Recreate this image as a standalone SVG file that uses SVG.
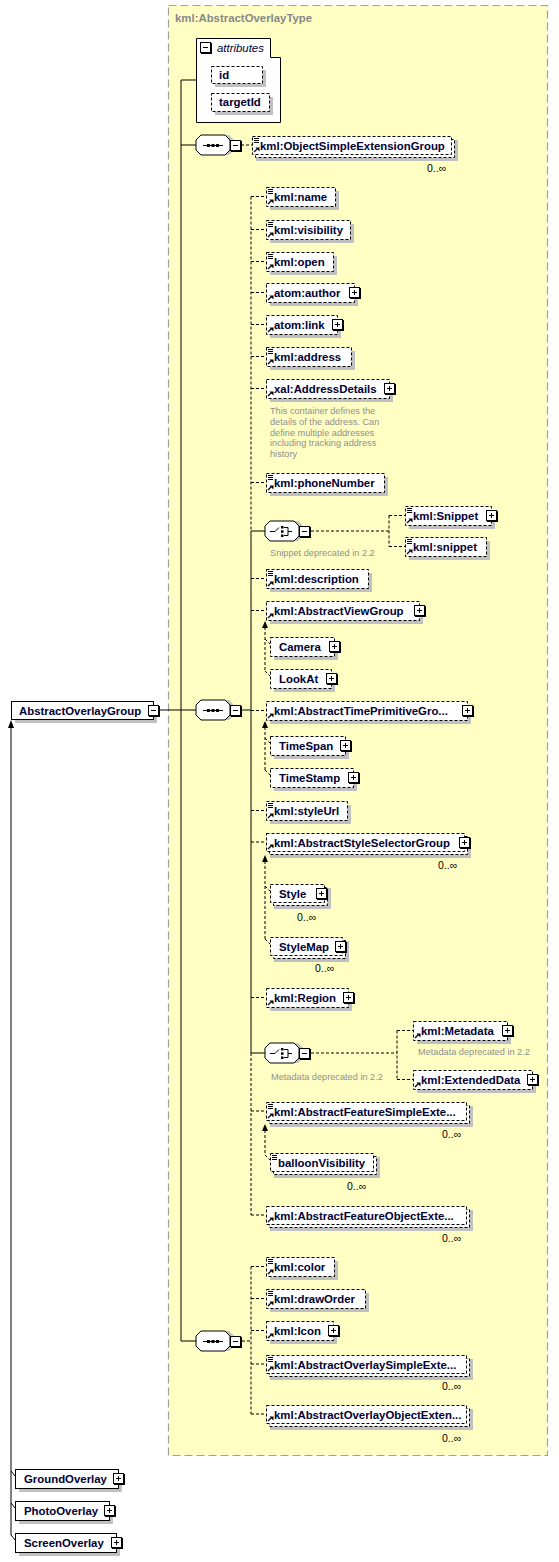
<svg xmlns="http://www.w3.org/2000/svg" xmlns:xlink="http://www.w3.org/1999/xlink" width="559" height="1562" viewBox="0 0 559 1562">
<style>
.bx{fill:#fff;stroke:#000;stroke-dasharray:3,2}
.sb{fill:#fff;stroke:#000}
.sh{fill:#c0c0c0}
.t{font-family:"Liberation Sans",Arial,sans-serif;font-weight:bold;font-size:11.4px;fill:#000033}
.ann{font-family:"Liberation Sans",Arial,sans-serif;font-size:9.2px;fill:#8f8f8f}
.occ{font-family:"Liberation Sans",Arial,sans-serif;font-size:10.5px;fill:#000}
.ln{fill:none;stroke:#000}
.dl{fill:none;stroke:#000;stroke-dasharray:3,2}
</style>
<defs>
<g id="pl"><rect x="1" y="1" width="11" height="11" fill="#000"/><rect x="0.5" y="0.5" width="10" height="10" fill="#fff" stroke="#000"/><path d="M3 5.5h5M5.5 3v5" stroke="#000"/></g>
<g id="mn"><rect x="1" y="1" width="11" height="11" fill="#000"/><rect x="0.5" y="0.5" width="10" height="10" fill="#fff" stroke="#000"/><path d="M3 5.5h5" stroke="#000"/></g>
<g id="sm"><path d="M2 2.5h5M2 4.5h5M2 6.5h5" stroke="#000"/></g>
<g id="rf"><path d="M2 17L5.5 13.5" stroke="#000" stroke-width="1.2"/><path d="M3.5 12.5H7.5V16.5Z" fill="#000"/></g>
<g id="oct"><polygon points="-12,-6 12,-6 17,-1 17,9 12,14 -12,14 -17,9 -17,-1" transform="translate(4,-4)" class="sh"/><polygon points="-12,-10 12,-10 17,-5 17,5 12,10 -12,10 -17,5 -17,-5" class="sb"/></g>
<g id="seq"><use xlink:href="#oct"/><path d="M-10 0.5H10" stroke="#000"/><rect x="-6" y="-1" width="3" height="3" fill="#000"/><rect x="-1.5" y="-1" width="3" height="3" fill="#000"/><rect x="3" y="-1" width="3" height="3" fill="#000"/><use xlink:href="#mn" x="17" y="-5"/></g>
<g id="cho"><use xlink:href="#oct"/><path d="M-12 0.5H-7L-3 -3.5M2 -3.5H6V4.5H2M6 0.5H10" fill="none" stroke="#000"/><rect x="-1" y="-5" width="2.5" height="2.5" fill="#000"/><rect x="-1" y="-0.7" width="2.5" height="2.5" fill="#000"/><rect x="-1" y="3.5" width="2.5" height="2.5" fill="#000"/><use xlink:href="#mn" x="17" y="-5"/></g>
</defs>

<g id="type-box">
<rect x="168.5" y="5.5" width="379" height="1450" fill="#ffffc4" stroke="#a0a0a0" stroke-dasharray="8,4" stroke-width="1.2"/>
<text x="175" y="22" class="t" style="fill:#888">kml:AbstractOverlayType</text>
</g>

<g id="connectors">
<path class="ln" d="M181 80V1341M181 80H196M181 145H196M158 710H196M181 1341H196M241 710H251M251 531V1053M251 531H265M251 1053H265"/>
<path class="ln" d="M11 726V1535M11 1471L15 1476M11 1503L15 1508M11 1535L15 1540"/>
<polygon points="11,720 8,728 14,728" fill="#000"/>
<path class="dl" d="M241 145H252M251 196.5V531M251 1053V1215"/>
<path class="dl" d="M251 196.5H266M251 229.5H266M251 261.5H266M251 292.5H266M251 324.5H266M251 356.5H266M251 388.5H266M251 482.5H266M251 578.5H266M251 610.5H266M251 710.5H266M251 810.5H266M251 842H266M251 997.5H266M251 1111H266M251 1215H266"/>
<path class="dl" d="M311 531H389M389 515.5V546.5M389 515.5H405M389 546.5H405"/>
<path class="dl" d="M311 1053H397M397 1030.5V1079.5M397 1030.5H413M397 1079.5H413"/>
<path class="dl" d="M242 1341H251M251 1266.5V1414M251 1266.5H266M251 1298.5H266M251 1330.5H266M251 1364H266M251 1414H266"/>
<path class="dl" d="M265 627V671M265 639L270 644M265 671L270 676"/>
<polygon points="265,621 262,628 268,628" fill="#000"/>
<path class="dl" d="M265 727V770M265 738L270 743M265 770L270 775"/>
<polygon points="265,721 262,728 268,728" fill="#000"/>
<path class="dl" d="M265 861V939M265 886L270 891M265 939L270 944"/>
<polygon points="265,855 262,862 268,862" fill="#000"/>
<path class="dl" d="M265 1130V1155M265 1155L270 1160"/>
<polygon points="265,1124 262,1131 268,1131" fill="#000"/>
</g>

<g id="attributes">
<polygon points="196.5,38.5 270.5,38.5 270.5,57.5 280.5,57.5 280.5,122.5 196.5,122.5" class="sb"/>
<use xlink:href="#mn" x="200" y="42"/>
<text x="217" y="52" font-family="Liberation Sans,Arial,sans-serif" font-size="11.4" font-style="italic" fill="#000033">attributes</text>
<g id="attr-id"><rect x="215" y="70" width="51" height="17" class="sh"/><rect x="211.5" y="66.5" width="51" height="17" class="bx"/><text x="219" y="79" class="t">id</text></g>
<g id="attr-targetId"><rect x="215" y="97" width="58" height="18" class="sh"/><rect x="211.5" y="93.5" width="58" height="18" class="bx"/><text x="219" y="106" class="t">targetId</text></g>
</g>

<g id="seq1"><use xlink:href="#seq" x="213" y="145"/></g>
<g id="seq2"><use xlink:href="#seq" x="213" y="710"/></g>
<g id="seq3"><use xlink:href="#seq" x="213" y="1341"/></g>
<g id="choice1"><use xlink:href="#cho" x="282" y="531"/><text x="270" y="556" class="ann">Snippet deprecated in 2.2</text></g>
<g id="choice2"><use xlink:href="#cho" x="282" y="1053"/><text x="271" y="1080" class="ann">Metadata deprecated in 2.2</text></g>

<g id="AbstractOverlayGroup"><rect x="15" y="705" width="142" height="18" class="sh"/><rect x="11.5" y="701.5" width="142" height="18" class="sb"/><text x="19" y="714.5" class="t">AbstractOverlayGroup</text><use xlink:href="#mn" x="148" y="705"/></g>
<g id="GroundOverlay"><rect x="19" y="1473" width="103" height="19" class="sh"/><rect x="15.5" y="1469.5" width="103" height="19" class="sb"/><text x="24" y="1483" class="t">GroundOverlay</text><use xlink:href="#pl" x="113" y="1473"/></g>
<g id="PhotoOverlay"><rect x="19" y="1505" width="94" height="19" class="sh"/><rect x="15.5" y="1501.5" width="94" height="19" class="sb"/><text x="24" y="1515" class="t">PhotoOverlay</text><use xlink:href="#pl" x="104" y="1505"/></g>
<g id="ScreenOverlay"><rect x="19" y="1537" width="101" height="19" class="sh"/><rect x="15.5" y="1533.5" width="101" height="19" class="sb"/><text x="24" y="1547" class="t">ScreenOverlay</text><use xlink:href="#pl" x="111" y="1537"/></g>

<g id="ObjectSimpleExtensionGroup"><rect x="256" y="140" width="202" height="21" class="sh"/><rect x="255.5" y="139.5" width="199" height="18" class="bx"/><rect x="252.5" y="136.5" width="199" height="18" class="bx"/><use xlink:href="#sm" x="252" y="136"/><use xlink:href="#rf" x="252" y="135"/><text x="260" y="149.5" class="t">kml:ObjectSimpleExtensionGroup</text><text x="427" y="172" class="occ">0..∞</text></g>

<g id="name"><rect x="270" y="191" width="69" height="19" class="sh"/><rect x="266.5" y="187.5" width="69" height="19" class="bx"/><use xlink:href="#sm" x="266" y="187"/><use xlink:href="#rf" x="266" y="187"/><text x="274" y="201" class="t">kml:name</text></g>
<g id="visibility"><rect x="270" y="224" width="84" height="19" class="sh"/><rect x="266.5" y="220.5" width="84" height="19" class="bx"/><use xlink:href="#sm" x="266" y="220"/><use xlink:href="#rf" x="266" y="220"/><text x="274" y="234" class="t">kml:visibility</text></g>
<g id="open"><rect x="270" y="256" width="67" height="19" class="sh"/><rect x="266.5" y="252.5" width="67" height="19" class="bx"/><use xlink:href="#sm" x="266" y="252"/><use xlink:href="#rf" x="266" y="252"/><text x="274" y="266" class="t">kml:open</text></g>
<g id="author"><rect x="270" y="287" width="88" height="19" class="sh"/><rect x="266.5" y="283.5" width="88" height="19" class="bx"/><use xlink:href="#rf" x="266" y="283"/><text x="274" y="297" class="t">atom:author</text><use xlink:href="#pl" x="349" y="287"/></g>
<g id="link"><rect x="270" y="319" width="71" height="19" class="sh"/><rect x="266.5" y="315.5" width="71" height="19" class="bx"/><use xlink:href="#rf" x="266" y="315"/><text x="274" y="329" class="t">atom:link</text><use xlink:href="#pl" x="332" y="319"/></g>
<g id="address"><rect x="270" y="351" width="85" height="19" class="sh"/><rect x="266.5" y="347.5" width="85" height="19" class="bx"/><use xlink:href="#sm" x="266" y="347"/><use xlink:href="#rf" x="266" y="347"/><text x="274" y="361" class="t">kml:address</text></g>
<g id="AddressDetails"><rect x="270" y="383" width="123" height="19" class="sh"/><rect x="266.5" y="379.5" width="123" height="19" class="bx"/><use xlink:href="#rf" x="266" y="379"/><text x="274" y="393" class="t">xal:AddressDetails</text><use xlink:href="#pl" x="384" y="383"/>
<text class="ann"><tspan x="270" y="414">This container defines the</tspan><tspan x="270" y="425">details of the address. Can</tspan><tspan x="270" y="436">define multiple addresses</tspan><tspan x="270" y="446">including tracking address</tspan><tspan x="270" y="457">history</tspan></text></g>
<g id="phoneNumber"><rect x="270" y="477" width="118" height="19" class="sh"/><rect x="266.5" y="473.5" width="118" height="19" class="bx"/><use xlink:href="#sm" x="266" y="473"/><use xlink:href="#rf" x="266" y="473"/><text x="274" y="487" class="t">kml:phoneNumber</text></g>
<g id="Snippet"><rect x="409" y="510" width="86" height="19" class="sh"/><rect x="405.5" y="506.5" width="86" height="19" class="bx"/><use xlink:href="#sm" x="405" y="506"/><use xlink:href="#rf" x="405" y="506"/><text x="413" y="520" class="t">kml:Snippet</text><use xlink:href="#pl" x="486" y="510"/></g>
<g id="snippet"><rect x="409" y="541" width="81" height="19" class="sh"/><rect x="405.5" y="537.5" width="81" height="19" class="bx"/><use xlink:href="#sm" x="405" y="537"/><use xlink:href="#rf" x="405" y="537"/><text x="413" y="551" class="t">kml:snippet</text></g>
<g id="description"><rect x="270" y="573" width="102" height="19" class="sh"/><rect x="266.5" y="569.5" width="102" height="19" class="bx"/><use xlink:href="#sm" x="266" y="569"/><use xlink:href="#rf" x="266" y="569"/><text x="274" y="583" class="t">kml:description</text></g>
<g id="AbstractViewGroup"><rect x="270" y="605" width="153" height="19" class="sh"/><rect x="266.5" y="601.5" width="153" height="19" class="bx"/><use xlink:href="#rf" x="266" y="601"/><text x="274" y="615" class="t">kml:AbstractViewGroup</text><use xlink:href="#pl" x="414" y="605"/></g>
<g id="Camera"><rect x="274" y="641" width="64" height="19" class="sh"/><rect x="270.5" y="637.5" width="64" height="19" class="bx"/><text x="279" y="651" class="t">Camera</text><use xlink:href="#pl" x="329" y="641"/></g>
<g id="LookAt"><rect x="274" y="673" width="61" height="19" class="sh"/><rect x="270.5" y="669.5" width="61" height="19" class="bx"/><text x="279" y="683" class="t">LookAt</text><use xlink:href="#pl" x="326" y="673"/></g>
<g id="AbstractTimePrimitiveGroup"><rect x="270" y="705" width="201" height="19" class="sh"/><rect x="266.5" y="701.5" width="201" height="19" class="bx"/><use xlink:href="#rf" x="266" y="701"/><text x="274" y="715" class="t">kml:AbstractTimePrimitiveGro...</text><use xlink:href="#pl" x="462" y="705"/></g>
<g id="TimeSpan"><rect x="274" y="740" width="75" height="19" class="sh"/><rect x="270.5" y="736.5" width="75" height="19" class="bx"/><text x="279" y="750" class="t">TimeSpan</text><use xlink:href="#pl" x="340" y="740"/></g>
<g id="TimeStamp"><rect x="274" y="772" width="83" height="19" class="sh"/><rect x="270.5" y="768.5" width="83" height="19" class="bx"/><text x="279" y="782" class="t">TimeStamp</text><use xlink:href="#pl" x="348" y="772"/></g>
<g id="styleUrl"><rect x="270" y="805" width="81" height="19" class="sh"/><rect x="266.5" y="801.5" width="81" height="19" class="bx"/><use xlink:href="#sm" x="266" y="801"/><use xlink:href="#rf" x="266" y="801"/><text x="274" y="815" class="t">kml:styleUrl</text></g>
<g id="AbstractStyleSelectorGroup"><rect x="270" y="837" width="201" height="21" class="sh"/><rect x="269.5" y="836.5" width="198" height="18" class="bx"/><rect x="266.5" y="833.5" width="198" height="18" class="bx"/><use xlink:href="#rf" x="266" y="832"/><text x="274" y="846.5" class="t">kml:AbstractStyleSelectorGroup</text><use xlink:href="#pl" x="459" y="837"/><text x="438" y="869" class="occ">0..∞</text></g>
<g id="Style"><rect x="274" y="888" width="57" height="21" class="sh"/><rect x="273.5" y="887.5" width="54" height="18" class="bx"/><rect x="270.5" y="884.5" width="54" height="18" class="bx"/><text x="279" y="897.5" class="t">Style</text><use xlink:href="#pl" x="316" y="888"/><text x="297" y="921" class="occ">0..∞</text></g>
<g id="StyleMap"><rect x="274" y="941" width="75" height="21" class="sh"/><rect x="273.5" y="940.5" width="72" height="18" class="bx"/><rect x="270.5" y="937.5" width="72" height="18" class="bx"/><text x="279" y="950.5" class="t">StyleMap</text><use xlink:href="#pl" x="335" y="941"/><text x="315" y="972" class="occ">0..∞</text></g>
<g id="Region"><rect x="270" y="992" width="82" height="19" class="sh"/><rect x="266.5" y="988.5" width="82" height="19" class="bx"/><use xlink:href="#rf" x="266" y="988"/><text x="274" y="1002" class="t">kml:Region</text><use xlink:href="#pl" x="343" y="992"/></g>
<g id="Metadata"><rect x="417" y="1025" width="94" height="19" class="sh"/><rect x="413.5" y="1021.5" width="94" height="19" class="bx"/><use xlink:href="#rf" x="413" y="1021"/><text x="421" y="1035" class="t">kml:Metadata</text><use xlink:href="#pl" x="502" y="1025"/><text x="418" y="1055" class="ann">Metadata deprecated in 2.2</text></g>
<g id="ExtendedData"><rect x="417" y="1074" width="119" height="19" class="sh"/><rect x="413.5" y="1070.5" width="119" height="19" class="bx"/><use xlink:href="#rf" x="413" y="1070"/><text x="421" y="1084" class="t">kml:ExtendedData</text><use xlink:href="#pl" x="527" y="1074"/></g>
<g id="AbstractFeatureSimpleExtensionGroup"><rect x="270" y="1106" width="203" height="21" class="sh"/><rect x="269.5" y="1105.5" width="200" height="18" class="bx"/><rect x="266.5" y="1102.5" width="200" height="18" class="bx"/><use xlink:href="#sm" x="266" y="1102"/><use xlink:href="#rf" x="266" y="1101"/><text x="274" y="1115.5" class="t">kml:AbstractFeatureSimpleExte...</text><text x="442" y="1138" class="occ">0..∞</text></g>
<g id="balloonVisibility"><rect x="274" y="1157" width="106" height="21" class="sh"/><rect x="273.5" y="1156.5" width="103" height="18" class="bx"/><rect x="270.5" y="1153.5" width="103" height="18" class="bx"/><use xlink:href="#sm" x="270" y="1153"/><text x="278" y="1166.5" class="t">balloonVisibility</text><text x="347" y="1190" class="occ">0..∞</text></g>
<g id="AbstractFeatureObjectExtensionGroup"><rect x="270" y="1210" width="203" height="21" class="sh"/><rect x="269.5" y="1209.5" width="200" height="18" class="bx"/><rect x="266.5" y="1206.5" width="200" height="18" class="bx"/><use xlink:href="#rf" x="266" y="1205"/><text x="274" y="1219.5" class="t">kml:AbstractFeatureObjectExte...</text><text x="442" y="1242" class="occ">0..∞</text></g>
<g id="color"><rect x="270" y="1261" width="68" height="19" class="sh"/><rect x="266.5" y="1257.5" width="68" height="19" class="bx"/><use xlink:href="#sm" x="266" y="1257"/><use xlink:href="#rf" x="266" y="1257"/><text x="274" y="1271" class="t">kml:color</text></g>
<g id="drawOrder"><rect x="270" y="1293" width="99" height="19" class="sh"/><rect x="266.5" y="1289.5" width="99" height="19" class="bx"/><use xlink:href="#sm" x="266" y="1289"/><use xlink:href="#rf" x="266" y="1289"/><text x="274" y="1303" class="t">kml:drawOrder</text></g>
<g id="Icon"><rect x="270" y="1325" width="67" height="19" class="sh"/><rect x="266.5" y="1321.5" width="67" height="19" class="bx"/><use xlink:href="#rf" x="266" y="1321"/><text x="274" y="1335" class="t">kml:Icon</text><use xlink:href="#pl" x="328" y="1325"/></g>
<g id="AbstractOverlaySimpleExtensionGroup"><rect x="270" y="1359" width="203" height="21" class="sh"/><rect x="269.5" y="1358.5" width="200" height="18" class="bx"/><rect x="266.5" y="1355.5" width="200" height="18" class="bx"/><use xlink:href="#sm" x="266" y="1355"/><use xlink:href="#rf" x="266" y="1354"/><text x="274" y="1368.5" class="t">kml:AbstractOverlaySimpleExte...</text><text x="442" y="1390" class="occ">0..∞</text></g>
<g id="AbstractOverlayObjectExtensionGroup"><rect x="270" y="1409" width="203" height="21" class="sh"/><rect x="269.5" y="1408.5" width="200" height="18" class="bx"/><rect x="266.5" y="1405.5" width="200" height="18" class="bx"/><use xlink:href="#rf" x="266" y="1404"/><text x="274" y="1418.5" class="t">kml:AbstractOverlayObjectExten...</text><text x="442" y="1442" class="occ">0..∞</text></g>
</svg>
